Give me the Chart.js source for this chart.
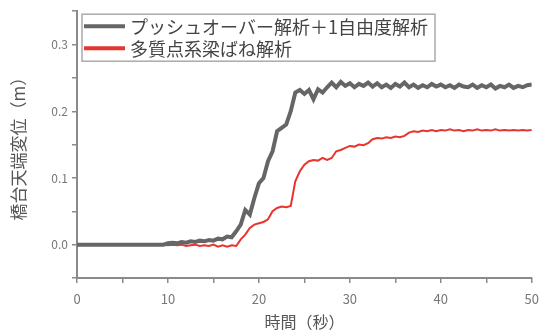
<!DOCTYPE html>
<html>
<head>
<meta charset="utf-8">
<script src="https://cdn.jsdelivr.net/npm/chart.js@4"></script>
<style>
  html, body { margin: 0; padding: 0; background: #fff; }
  #wrap { width: 547px; height: 336px; }
</style>
</head>
<body>
<div id="wrap"><canvas id="chart" width="547" height="336"></canvas></div>
<script>
// time (s)
const times = [
  0, 0.5, 1, 1.5, 2, 2.5, 3, 3.5, 4, 4.5, 5, 5.5, 6, 6.5, 7, 7.5, 8, 8.5, 9, 9.5,
  10, 10.5, 11, 11.5, 12, 12.5, 13, 13.5, 14, 14.5, 15, 15.5, 16, 16.5, 17, 17.5, 18, 18.5, 19, 19.5,
  20, 20.5, 21, 21.5, 22, 22.5, 23, 23.5, 24, 24.5, 25, 25.5, 26, 26.5, 27, 27.5, 28, 28.5, 29, 29.5,
  30, 30.5, 31, 31.5, 32, 32.5, 33, 33.5, 34, 34.5, 35, 35.5, 36, 36.5, 37, 37.5, 38, 38.5, 39, 39.5,
  40, 40.5, 41, 41.5, 42, 42.5, 43, 43.5, 44, 44.5, 45, 45.5, 46, 46.5, 47, 47.5, 48, 48.5, 49, 49.5, 50
];

// プッシュオーバー解析＋1自由度解析
const pushover = [
  0, 0, 0, 0, 0, 0, 0, 0, 0, 0, 0, 0, 0, 0, 0, 0, 0, 0, 0, 0,
  0.002, 0.003, 0.002, 0.004, 0.003, 0.005, 0.004, 0.006, 0.005, 0.007, 0.006, 0.009, 0.008, 0.012, 0.011, 0.02, 0.03, 0.052, 0.045, 0.07,
  0.092, 0.1, 0.125, 0.14, 0.17, 0.175, 0.18, 0.2, 0.228, 0.232, 0.226, 0.232, 0.218, 0.233, 0.228, 0.236, 0.243, 0.236, 0.244, 0.238,
  0.242, 0.236, 0.241, 0.238, 0.243, 0.237, 0.242, 0.236, 0.24, 0.235, 0.241, 0.237, 0.243, 0.236, 0.24, 0.235, 0.239, 0.236, 0.241, 0.237,
  0.24, 0.236, 0.239, 0.235, 0.24, 0.237, 0.236, 0.24, 0.235, 0.239, 0.236, 0.24, 0.234, 0.238, 0.236, 0.24, 0.235, 0.238, 0.236, 0.239, 0.24
];

// 多質点系梁ばね解析
const multiMass = [
  0, 0, 0, 0, 0, 0, 0, 0, 0, 0, 0, 0, 0, 0, 0, 0, 0, 0, 0, 0,
  -0.001, 0, -0.001, 0, -0.002, -0.001, 0, -0.002, -0.001, -0.002, 0, -0.003, -0.001, -0.003, -0.001, -0.002, 0.008, 0.015, 0.025, 0.03,
  0.032, 0.034, 0.038, 0.05, 0.055, 0.057, 0.056, 0.058, 0.095, 0.11, 0.12, 0.125, 0.127, 0.126, 0.13, 0.127, 0.13, 0.14, 0.142, 0.145,
  0.148, 0.147, 0.15, 0.149, 0.152, 0.158, 0.16, 0.159, 0.161, 0.16, 0.162, 0.161, 0.163, 0.168, 0.17, 0.169, 0.171, 0.17, 0.172, 0.17,
  0.172, 0.171, 0.173, 0.171, 0.172, 0.17, 0.172, 0.171, 0.173, 0.171, 0.172, 0.171, 0.173, 0.171, 0.172, 0.171, 0.172, 0.171, 0.172, 0.171, 0.172
];

const seriesNames = ["プッシュオーバー解析＋1自由度解析", "多質点系梁ばね解析"];
const seriesColors = ["#666666", "#e8342e"];

const font = "'Noto Sans CJK JP', 'Noto Sans', sans-serif";
const axisColor = "#8a8a8a";

// legend box drawn inside the plot
const boxLegend = {
  id: "boxLegend",
  afterDraw(chart) {
    const ctx = chart.ctx;
    const a = chart.chartArea;
    const x = a.left + 5, y = a.top + 3, w = 353, h = 47;
    ctx.save();
    ctx.fillStyle = "#fff";
    ctx.fillRect(x, y, w, h);
    ctx.strokeStyle = "#aaa";
    ctx.lineWidth = 1.5;
    ctx.strokeRect(x, y, w, h);
    ctx.font = "18px " + font;
    ctx.textBaseline = "middle";
    seriesNames.forEach((name, i) => {
      const ly = y + 12 + i * 22;
      ctx.strokeStyle = seriesColors[i];
      ctx.lineWidth = 4;
      ctx.beginPath();
      ctx.moveTo(x + 2, ly);
      ctx.lineTo(x + 43, ly);
      ctx.stroke();
      ctx.fillStyle = "#444";
      ctx.fillText(name, x + 48, ly + 1);
    });
    ctx.restore();
  }
};

new Chart(document.getElementById("chart").getContext("2d"), {
  type: "line",
  data: {
    labels: times,
    datasets: [{
      label: seriesNames[0],
      data: pushover,
      borderColor: seriesColors[0],
      borderWidth: 4,
      pointRadius: 0,
      tension: 0
    }, {
      label: seriesNames[1],
      data: multiMass,
      borderColor: seriesColors[1],
      borderWidth: 2,
      pointRadius: 0,
      tension: 0
    }]
  },
  options: {
    responsive: false,
    animation: false,
    layout: { padding: { top: 10, right: 8, left: 0, bottom: 0 } },
    scales: {
      x: {
        type: "linear",
        min: 0,
        max: 50,
        afterFit: (s) => { s.height = 58; },
        ticks: {
          stepSize: 5,
          color: "#777",
          font: { size: 13, family: font },
          padding: 8,
          maxRotation: 0,
          callback: (v) => (v % 10 === 0 ? v : "")
        },
        grid: { drawOnChartArea: false, color: axisColor, lineWidth: 1.5, tickLength: 5 },
        border: { color: axisColor, width: 2 },
        title: {
          display: true,
          text: "時間（秒）",
          color: "#555",
          font: { size: 16, family: font },
          padding: { top: 0 }
        }
      },
      y: {
        min: -0.05,
        max: 0.35,
        afterFit: (s) => { s.width = 77; },
        ticks: {
          stepSize: 0.05,
          color: "#777",
          font: { size: 12, family: font },
          padding: 4,
          callback: (v) => {
            const r = Math.round(v * 100);
            return r >= 0 && r % 10 === 0 ? (r / 100).toFixed(1) : "";
          }
        },
        grid: { drawOnChartArea: false, color: axisColor, lineWidth: 1.5, tickLength: 5 },
        border: { color: axisColor, width: 2 },
        title: {
          display: true,
          text: "橋台天端変位（m）",
          color: "#555",
          font: { size: 17, family: font },
          padding: { top: 8, bottom: 4 }
        }
      }
    },
    plugins: {
      legend: { display: false },
      tooltip: { enabled: false }
    }
  },
  plugins: [boxLegend]
});
</script>
</body>
</html>
